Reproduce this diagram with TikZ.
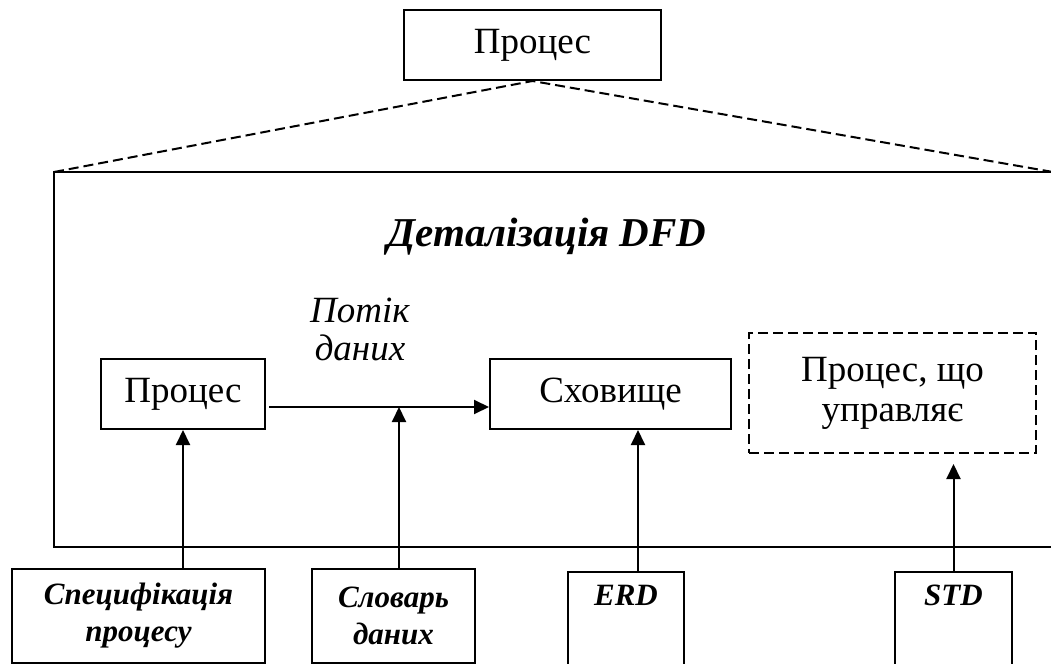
\documentclass[tikz,border=0pt]{standalone}
\usepackage{fontspec}
\setmainfont{Liberation Serif}
\usetikzlibrary{arrows.meta,positioning}

\begin{document}
\begin{tikzpicture}[
    x=0.5pt,y=-0.5pt,
    >={Triangle[length=7.5pt,width=7pt]},
    font=\fontsize{18.5pt}{20pt}\selectfont,
    line width=1pt,
    block/.style={
      rectangle,draw,align=center,inner sep=0pt
    },
    ghost/.style={block,dash pattern=on 5pt off 2.5pt},
    docbox/.style={
      block,font=\fontsize{15.5pt}{18.5pt}\selectfont\bfseries\itshape
    },
    flow/.style={->,line width=1pt}
  ]
    \useasboundingbox (0,0) rectangle (1051,664);
    \clip (0,0) rectangle (1051,664);

    \node[block,minimum width=128.5pt,minimum height=35pt] (top) at (532.5,45) {Процес};
    \draw (54,172) rectangle (1053,547);
    \coordinate (frameL) at (54,172);
    \coordinate (frameR) at (1053,172);
    \draw[dash pattern=on 5pt off 2.5pt] (frameL) -- (top.south) -- (frameR);

    \node[font=\fontsize{20.5pt}{22pt}\selectfont\bfseries\itshape] (title) at (547,237) {Деталізація DFD};

    \node[block,minimum width=82pt,minimum height=35pt] (proc) at (183,394) {Процес};
    \node[block,minimum width=120.5pt,minimum height=35pt] (store) at (610.5,394) {Сховище};
    \node[ghost,minimum width=143.5pt,minimum height=60pt] (ctrl) at (892.5,393) {Процес, що\\управляє};
    \node[font=\fontsize{18.5pt}{19pt}\selectfont\itshape,align=center] (flowlbl) at (360,329) {Потік\\даних};

    \node[docbox,minimum width=126.5pt,minimum height=47pt] (spec) at (138.5,616) {Специфікація\\процесу};
    \node[docbox,minimum width=81.5pt,minimum height=47pt] (dict) at (393.5,616) {Словарь\\даних};
    \node[docbox,minimum width=58pt,minimum height=47pt] (erd) at (626,619) {ERD\\\strut};
    \node[docbox,minimum width=58.5pt,minimum height=47pt] (std) at (953.5,619) {STD\\\strut};

    \coordinate (fstart) at (269,407);
    \coordinate (fmid) at (399,407);
    \draw[flow] (fstart) -- (store.west |- fstart);

    \draw[flow] (spec.north -| proc.south) -- (proc.south);
    \draw[flow] (dict.north -| fmid) -- (fmid);
    \draw[flow] ([xshift=6pt]erd.north) -- ([xshift=6pt]erd.north |- store.south);
    \draw[flow] (std.north) -- ([yshift=-5pt]ctrl.south -| std.north);
\end{tikzpicture}
\end{document}
